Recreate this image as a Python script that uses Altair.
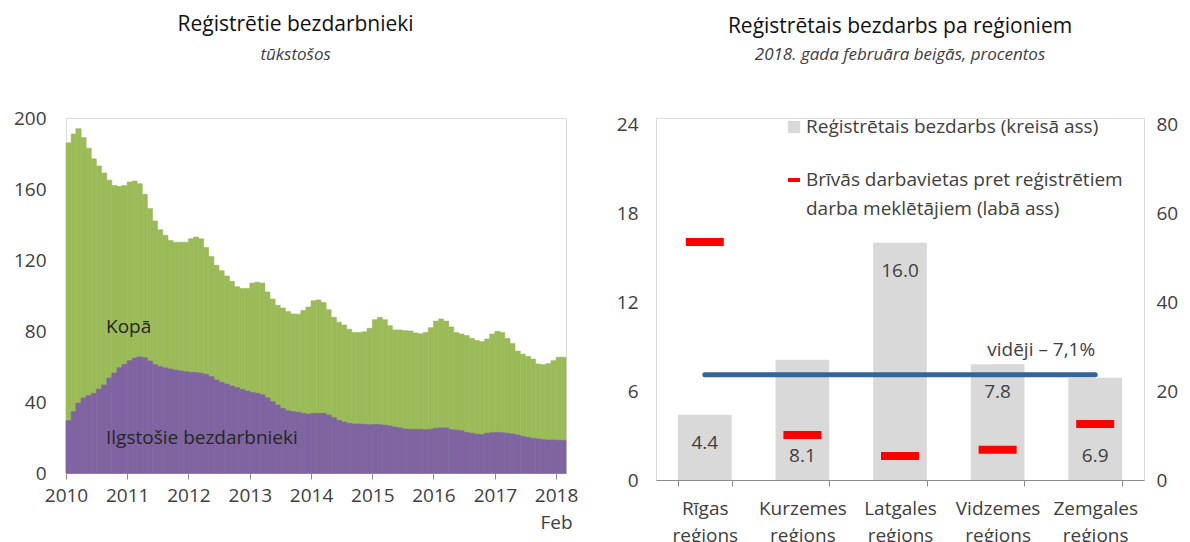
import altair as alt
import pandas as pd

# ---------------- data: left panel (thousands, monthly Jan 2010 - Feb 2018) ----------------
total_unemployed = [
    186, 191, 194, 189, 183, 177, 173, 169, 165, 162, 161.5, 162,
    164, 164.5, 163, 157, 149, 142, 137, 134, 131, 130, 130, 130,
    132, 133, 132, 127, 122, 117, 114, 111, 108, 105, 104, 104,
    107, 107.5, 107, 102, 98, 94.5, 93, 91, 89.6, 89.5, 91.5, 93.5,
    97, 97.5, 96, 92, 87.7, 85, 83.4, 81, 79.2, 79.2, 79.6, 81.5,
    86.4, 87.7, 86.4, 83, 80.6, 80.6, 80.2, 80, 78.9, 78.5, 79.2, 81.9,
    85.6, 86.8, 85.6, 82.3, 79.2, 78.3, 77.4, 75.9, 74.6, 74, 75.5, 78.3,
    79.8, 79.2, 75.9, 73, 68.7, 67, 65.7, 64.2, 61.4, 61, 61.6, 63.3,
    65.2, 65.2,
]
long_term_unemployed = [
    29.5, 34.6, 39.4, 42.3, 43.6, 44.9, 47.3, 49.6, 53.5, 56.3, 59.3, 61.2,
    63.3, 64.8, 65.4, 65, 63.1, 61, 59.9, 59.2, 58.6, 58, 57.5, 57.1,
    56.7, 56.6, 56.2, 55.6, 54.3, 52.4, 51.1, 50.1, 49, 48.1, 47.1, 46.2,
    45.4, 44.9, 44.1, 42.4, 40.2, 38.3, 36.4, 35.1, 34.6, 34.2, 33.6, 33.2,
    33.6, 33.6, 33.6, 32.7, 31.2, 29.7, 28.7, 28, 27.6, 27.6, 27.4, 27.2,
    27.4, 27.2, 27, 26.5, 25.9, 25.4, 24.8, 24.6, 24.6, 24.6, 24.4, 24.6,
    25.2, 25.4, 25.4, 24.4, 24.2, 23.8, 22.9, 22.4, 21.8, 21.6, 22.4, 22.7,
    22.9, 22.7, 22.4, 22, 21.4, 20.7, 20.1, 19.5, 19.2, 18.8, 18.6, 18.6,
    18.4, 18.4,
]
first_month = "2010-01-01"
year_ticks = list(range(2010, 2019))
y_ticks_left = [0, 40, 80, 120, 160, 200]
series_labels = ["Kopā", "Ilgstošie bezdarbnieki"]

# ---------------- data: right panel ----------------
regions = ["Rīgas reģions", "Kurzemes reģions", "Latgales reģions",
           "Vidzemes reģions", "Zemgales reģions"]
registered_unemployment = [4.4, 8.1, 16.0, 7.8, 6.9]          # %, left axis
vacancies_per_100_jobseekers = [53.5, 10.1, 5.4, 6.8, 12.6]   # right axis
national_average = 7.1
y_ticks_right_left = [0, 6, 12, 18, 24]
y_ticks_right_right = [0, 20, 40, 60, 80]
legend_labels = ["Reģistrētais bezdarbs (kreisā ass)",
                 "Brīvās darbavietas pret reģistrētiem",
                 "darba meklētājiem (labā ass)"]
average_label = "vidēji – 7,1%"

FONT = "Open Sans"
TXT = "#404040"
AXC = "#8C8C8C"
GREEN = "#9BBB59"
PURPLE = "#8064A2"

# ---------------- left panel ----------------
months = pd.date_range(first_month, periods=len(total_unemployed), freq="MS")
ldf = pd.DataFrame({
    "start": months,
    "end": months + pd.DateOffset(months=1),
    "total": total_unemployed,
    "long": long_term_unemployed,
})

x_dom = [alt.DateTime(year=2010, month=1, date=1), alt.DateTime(year=2018, month=3, date=1)]
x_left = alt.X(
    "start:T",
    scale=alt.Scale(domain=x_dom),
    axis=alt.Axis(
        values=[alt.DateTime(year=y, month=1, date=1) for y in year_ticks],
        labelExpr="year(datum.value) == 2018 ? ['2018', 'Feb'] : timeFormat(datum.value, '%Y')",
        domainColor=AXC, tickColor=AXC, tickSize=6, labelPadding=7,
        labelFontSize=19, labelColor=TXT, labelLineHeight=27, grid=False, title=None,
        labelFlush=False, labelOverlap=False,
    ),
)
y_scale_left = alt.Scale(domain=[0, 200], nice=False)
y_axis_left = alt.Axis(values=y_ticks_left, domain=False, ticks=False, grid=False,
                       labelPadding=20, labelFontSize=19, labelColor=TXT, title=None)

rect_total = alt.Chart(ldf).mark_rect(color=GREEN, stroke=GREEN, strokeWidth=0.6).encode(
    x=x_left, x2="end:T",
    y=alt.Y("total:Q", scale=y_scale_left, axis=y_axis_left), y2=alt.Y2(datum=0))
rect_long = alt.Chart(ldf).mark_rect(color=PURPLE, stroke=PURPLE, strokeWidth=0.6).encode(
    x=x_left, x2="end:T",
    y=alt.Y("long:Q", scale=y_scale_left, axis=y_axis_left), y2=alt.Y2(datum=0))

ann = pd.DataFrame({"label": series_labels, "yv": [82, 20]})
ann_text = alt.Chart(ann).mark_text(align="left", baseline="middle", fontSize=19,
                                    color="#262626", font=FONT).encode(
    x=alt.value(40), y=alt.Y("yv:Q", scale=y_scale_left, axis=y_axis_left), text="label:N")

left = alt.layer(rect_total, rect_long, ann_text).properties(
    width=500, height=355,
    title=alt.TitleParams(
        text="Reģistrētie bezdarbnieki", subtitle="tūkstošos",
        anchor="middle", frame="bounds", fontSize=21, fontWeight="normal",
        color="#111111", font=FONT, subtitleFont=FONT, subtitleFontSize=17,
        subtitleFontStyle="italic", subtitleColor=TXT, subtitlePadding=12, offset=46,
    ),
)

# ---------------- right panel ----------------
rdf = pd.DataFrame({
    "region": regions,
    "unemp": registered_unemployment,
    "vac": vacancies_per_100_jobseekers,
    "avg": [national_average] * len(regions),
})
xscale = alt.Scale(domain=regions, paddingInner=0.45, paddingOuter=0.225)
x_right = alt.X(
    "region:N", scale=xscale,
    axis=alt.Axis(labelExpr="split(datum.label, ' ')", tickBand="extent",
                  domainColor=AXC, tickColor=AXC, tickSize=6, labelAngle=0,
                  labelFontSize=19, labelColor=TXT, labelLineHeight=27,
                  labelPadding=13, title=None),
)
# left scale of the right panel: 24 sits 6 px below the top of the plot group
TOP_UNITS = 24 * 362 / 356
yl_scale = alt.Scale(domain=[0, TOP_UNITS], nice=False)
yr_scale = alt.Scale(domain=[0, TOP_UNITS * 80 / 24], nice=False)
yl_axis = alt.Axis(values=y_ticks_right_left, domain=False, ticks=False, grid=False,
                   labelPadding=18, labelFontSize=19, labelColor=TXT, title=None)

bars = alt.Chart(rdf).mark_bar(color="#D9D9D9").encode(
    x=x_right, y=alt.Y("unemp:Q", scale=yl_scale, axis=yl_axis))
lbl_kw = dict(baseline="middle", align="center", fontSize=19, color=TXT, font=FONT)
lab_top = alt.Chart(rdf).transform_filter(
    alt.FieldOneOfPredicate(field="region", oneOf=[regions[2], regions[3]])
).mark_text(dy=28, **lbl_kw).encode(
    x=x_right, y=alt.Y("unemp:Q", scale=yl_scale, axis=yl_axis),
    text=alt.Text("unemp:Q", format=".1f"))
lab_bottom = alt.Chart(rdf).transform_filter(
    alt.FieldOneOfPredicate(field="region", oneOf=[regions[1], regions[4]])
).mark_text(dy=-24, **lbl_kw).encode(
    x=x_right, y=alt.Y(datum=0, scale=yl_scale, axis=yl_axis),
    text=alt.Text("unemp:Q", format=".1f"))
lab_riga = alt.Chart(rdf).transform_filter(
    alt.FieldOneOfPredicate(field="region", oneOf=[regions[0]])
).mark_text(dy=-37, **lbl_kw).encode(
    x=x_right, y=alt.Y(datum=0, scale=yl_scale, axis=yl_axis),
    text=alt.Text("unemp:Q", format=".1f"))

avg_line = alt.Chart(rdf).mark_line(color="#3A6395", strokeWidth=5, strokeCap="round").encode(
    x=x_right, y=alt.Y("avg:Q", scale=yl_scale, axis=yl_axis))
avg_text = alt.Chart(pd.DataFrame({"t": [average_label], "region": [regions[-1]],
                                   "v": [national_average]})).mark_text(
    align="right", baseline="middle", dy=-25, dx=0, fontSize=19, color=TXT, font=FONT
).encode(x=x_right, y=alt.Y("v:Q", scale=yl_scale, axis=yl_axis), text="t:N")

# legend (drawn by hand, positions in pixels of the plot group)
leg_sq = alt.Chart(pd.DataFrame({"k": [0]})).mark_square(color="#D9D9D9", size=150, opacity=1).encode(
    x=alt.value(138), y=alt.value(9))
leg_dash = alt.Chart(pd.DataFrame({"k": [0]})).mark_rule(color="#FF0000", strokeWidth=4).encode(
    x=alt.value(132), x2=alt.value(144), y=alt.value(62))
leg_text = alt.Chart(pd.DataFrame({"t": legend_labels, "yy": [9, 62, 91]})).mark_text(
    align="left", baseline="middle", fontSize=19, color=TXT, font=FONT
).encode(x=alt.value(150), y=alt.Y("yy:Q", scale=None), text="t:N")

left_axis_layer = alt.layer(bars, lab_top, lab_bottom, lab_riga, avg_line, avg_text,
                            leg_sq, leg_dash, leg_text)

red = alt.Chart(rdf).mark_tick(color="#FF0000", thickness=8, size=38, opacity=1).encode(
    x=x_right,
    y=alt.Y("vac:Q", scale=yr_scale,
            axis=alt.Axis(orient="right", values=y_ticks_right_right, domain=False, ticks=False,
                          grid=False, labelPadding=12, labelFontSize=19, labelColor=TXT,
                          title=None)),
)

right = alt.layer(left_axis_layer, red).resolve_scale(y="independent").properties(
    width=488, height=362,
    title=alt.TitleParams(
        text="Reģistrētais bezdarbs pa reģioniem",
        subtitle="2018. gada februāra beigās, procentos",
        anchor="middle", frame="group", fontSize=21, fontWeight="normal",
        color="#111111", font=FONT, subtitleFont=FONT, subtitleFontSize=17,
        subtitleFontStyle="italic", subtitleColor=TXT, subtitlePadding=10, offset=52,
    ),
)

chart = alt.hconcat(left, right, spacing=36).properties(
    padding={"left": 4, "top": 5, "right": 0, "bottom": 0}
).configure_view(stroke=None).configure(font=FONT)

chart.save("out.html", embed_options={"renderer": "svg", "actions": False})
